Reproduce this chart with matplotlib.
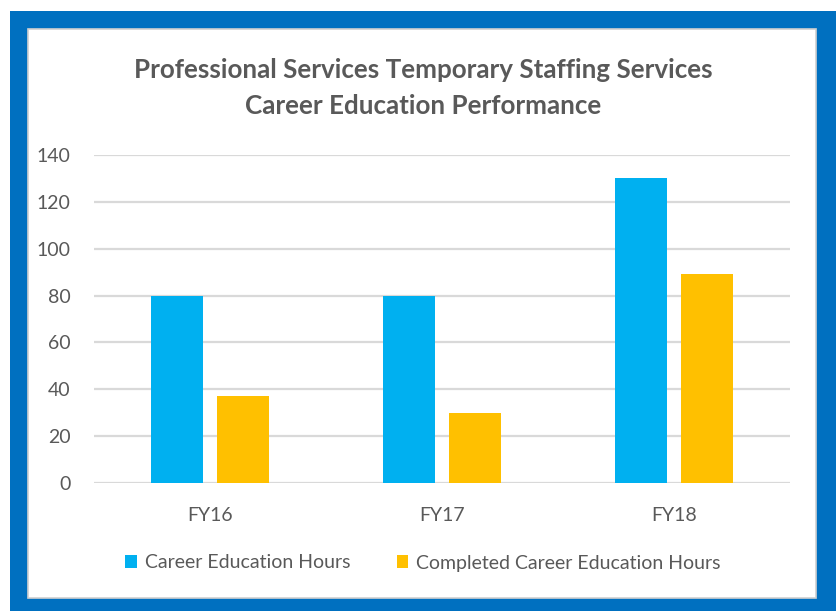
import matplotlib
matplotlib.use('Agg')
import matplotlib.pyplot as plt
from matplotlib.patches import Rectangle
import numpy as np

# data
years = ['FY16', 'FY17', 'FY18']
career_hours = [80, 80, 130]
completed_hours = [37, 30, 89]
series_names = ['Career Education Hours', 'Completed Career Education Hours']
yticks = [0, 20, 40, 60, 80, 100, 120, 140]

grey = '#595959'
plt.rcParams['font.family'] = ['Lato', 'DejaVu Sans']

fig = plt.figure(figsize=(8.36, 6.11), dpi=100)
W, H = 836, 611

# blue frame with white card inside
fig.patches.append(Rectangle((10 / W, 0), 1, 1 - 11 / H, transform=fig.transFigure,
                             facecolor='#0070C0', edgecolor='none', zorder=0))
fig.patches.append(Rectangle((28 / W, 13 / H), (816 - 28) / W, (598 - 29) / H,
                             transform=fig.transFigure, facecolor='white',
                             edgecolor='#D0D0D0', linewidth=1.2, zorder=1))

ax = fig.add_axes([94 / W, 1 - 483 / H, (790 - 94) / W, (483 - 155) / H])
ax.set_zorder(2)
ax.patch.set_visible(False)

x = np.arange(len(years))
w = 0.224
off = 0.142
b1 = ax.bar(x - off, career_hours, w, color='#00B0F0', label=series_names[0], zorder=3)
b2 = ax.bar(x + off, completed_hours, w, color='#FFC000', label=series_names[1], zorder=3)

ax.set_xlim(-0.5, 2.5)
ax.set_ylim(0, 140)
ax.set_yticks(yticks)
ax.set_xticks(x)
ax.set_xticklabels(years)
ax.grid(axis='y', color='#D9D9D9', linewidth=1.6, zorder=0)
for s in ax.spines.values():
    s.set_visible(False)
ax.tick_params(length=0, colors=grey, labelsize=14)
ax.tick_params(axis='y', pad=17)
ax.tick_params(axis='x', pad=17)

fig.text(423 / W, 1 - 70 / H, 'Professional Services Temporary Staffing Services',
         ha='center', va='center', fontsize=18.7, fontweight='bold', color=grey)
fig.text(423 / W, 1 - 106 / H, 'Career Education Performance',
         ha='center', va='center', fontsize=18.7, fontweight='bold', color=grey)

fig.legend(handles=[b1, b2], loc='center', bbox_to_anchor=(423 / W, 1 - 563 / H),
           ncol=2, frameon=False, fontsize=14, labelcolor=grey,
           handlelength=0.6, handleheight=0.6, handletextpad=0.4, columnspacing=2.4)

fig.savefig('out.png', dpi=100, facecolor='white')
